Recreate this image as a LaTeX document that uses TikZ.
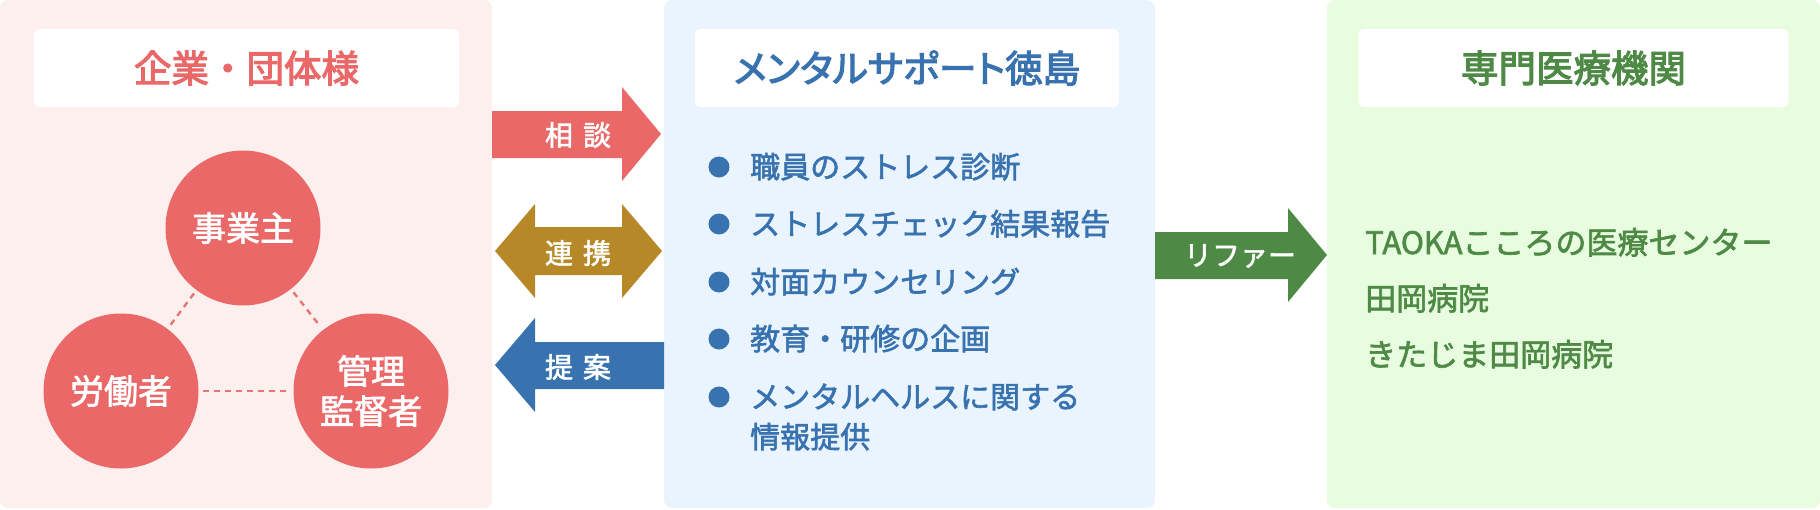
\documentclass[tikz,border=0pt]{standalone}
\usepackage{fontspec}
\setmainfont{Noto Sans CJK JP}[FakeBold=2]
\newfontfamily\titlefont{Noto Sans CJK JP}[FakeBold=3]
\newfontfamily\titlekana{Noto Sans CJK JP}[FakeBold=3, RawFeature=+palt]

\definecolor{orgbg}{HTML}{FEEFEF}
\definecolor{supportbg}{HTML}{EAF4FF}
\definecolor{medicalbg}{HTML}{E8FCE0}
\definecolor{redc}{HTML}{EB6868}
\definecolor{dashc}{HTML}{E67575}
\definecolor{bluec}{HTML}{3872AF}
\definecolor{goldc}{HTML}{B78828}
\definecolor{greenc}{HTML}{4E8A45}

\tikzset{
  panel/.style={rectangle, rounded corners=8pt, minimum height=508pt, inner sep=0pt},
  titlebox/.style={rectangle, fill=white, rounded corners=5pt, minimum height=78pt, inner sep=0pt, font=\titlefont\fontsize{37.5}{45}\selectfont},
  person/.style={circle, fill=redc, text=white, minimum size=155pt, inner sep=0pt, align=center, font=\fontsize{34}{40}\selectfont},
  tieline/.style={draw=dashc, line width=2.4pt, dash pattern=on 6pt off 5pt, shorten <=4pt, shorten >=4pt},
  itemdot/.style={circle, fill=bluec, minimum size=21pt, inner sep=0pt},
  itemtext/.style={anchor=base west, inner sep=0pt, text=bluec, align=left, font=\fontsize{30}{40}\selectfont},
  clinic/.style={anchor=base west, inner sep=0pt, text=greenc, font=\fontsize{31}{40}\selectfont},
  arrowlabel/.style={text=white, inner sep=0pt, font=\fontsize{28}{30}\selectfont}
}

\begin{document}
\begin{tikzpicture}[x=1pt, y=-1pt]
\useasboundingbox (0,0) rectangle (1820,509);

% panels
\node[panel, fill=orgbg, minimum width=492pt] (org) at (246,254) {};
\node[panel, fill=supportbg, minimum width=491pt] (support) at (909.5,254) {};
\node[panel, fill=medicalbg, minimum width=493pt] (medical) at (1573.5,254) {};

% titles
\node[titlebox, minimum width=425pt, text=redc] (orgtitle) at (246.5,68) {企業・団体様};
\node[titlebox, minimum width=424pt, text=bluec, font=\titlekana\fontsize{37.5}{45}\selectfont] (supporttitle) at (907,68) {メンタルサポート徳島};
\node[titlebox, minimum width=430pt, text=greenc] (medicaltitle) at (1573.5,68) {専門医療機関};

% people in the company
\node[person] (owner) at (243,228) {事業主};
\node[person] (worker) at (121,391) {労働者};
\node[person] (manager) at (371,391) {管理\\監督者};
\draw[tieline] (owner) -- (worker);
\draw[tieline] (owner) -- (manager);
\draw[tieline] (worker) -- (manager);

% block arrows
\fill[redc] (492,111) -- (622,111) -- (622,87) -- (661,134) -- (622,181) -- (622,158) -- (492,158) -- cycle;
\fill[goldc] (535,227) -- (622,227) -- (622,204) -- (662,251) -- (622,298) -- (622,275) -- (535,275) -- (535,298) -- (495,251) -- (535,204) -- cycle;
\fill[bluec] (664,342) -- (535,342) -- (535,318) -- (495,365) -- (535,412) -- (535,389) -- (664,389) -- cycle;
\fill[greenc] (1155,232) -- (1288,232) -- (1288,208) -- (1327,255) -- (1288,302) -- (1288,279) -- (1155,279) -- cycle;
\node[arrowlabel] (consult) at (578,135) {相\hspace{10pt}談};
\node[arrowlabel] (cooperate) at (578,253) {連\hspace{10pt}携};
\node[arrowlabel] (propose) at (578,367) {提\hspace{10pt}案};
\node[arrowlabel] (refer) at (1240,256) {リファー};

% services
\node[itemdot] (dot1) at (719,167) {};
\node[itemdot] (dot2) at (719,224) {};
\node[itemdot] (dot3) at (719,282) {};
\node[itemdot] (dot4) at (719,339) {};
\node[itemdot] (dot5) at (719,397) {};
\node[itemtext] (item1) at (750,178) {職員のストレス診断};
\node[itemtext] (item2) at (750,235) {ストレスチェック結果報告};
\node[itemtext] (item3) at (750,293) {対面カウンセリング};
\node[itemtext] (item4) at (750,350) {教育・研修の企画};
\node[itemtext] (item5) at (750,448) {メンタルヘルスに関する\\情報提供};

% hospitals
\node[clinic] (taoka) at (1365,254) {TAOKAこころの医療センター};
\node[clinic] (hosp1) at (1365,310) {田岡病院};
\node[clinic] (hosp2) at (1365,366) {きたじま田岡病院};
\end{tikzpicture}
\end{document}
